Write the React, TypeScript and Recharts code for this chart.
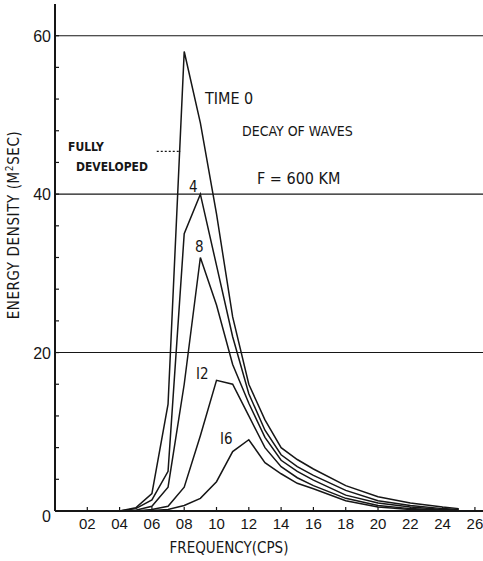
import { LineChart, Line, XAxis, YAxis, ReferenceLine, Label } from "recharts";

// frequency (cps) and energy density (m^2 sec) for each hour after the wind stops
const frequencies = [0.04, 0.05, 0.06, 0.07, 0.08, 0.09, 0.1, 0.11, 0.12, 0.13, 0.14, 0.15, 0.16, 0.18, 0.2, 0.22, 0.24, 0.25];
const time0 = [0, 0.4, 2.2, 13.5, 58, 49, 37.5, 24.5, 16, 11.5, 8, 6.5, 5.3, 3.2, 1.8, 1.0, 0.5, 0.3];
const time4 = [0, 0.3, 1.4, 5, 35, 40, 31, 22, 14.8, 10.2, 7.1, 5.6, 4.5, 2.6, 1.3, 0.7, 0.3, 0.2];
const time8 = [0, 0.1, 0.6, 3, 16, 32, 26, 18.5, 13.6, 9.3, 6.4, 5, 3.9, 2.0, 1.0, 0.5, 0.2, 0.1];
const time12 = [0, 0, 0.2, 0.6, 3, 9.5, 16.5, 16, 12, 8, 5.6, 4.2, 3.2, 1.6, 0.7, 0.3, 0.1, 0];
const time16 = [0, 0, 0.05, 0.2, 0.7, 1.6, 3.7, 7.5, 9, 6.1, 4.7, 3.5, 2.8, 1.3, 0.5, 0.2, 0.1, 0];

const seriesKeys = ["t0", "t4", "t8", "t12", "t16"];

const xTicks = [0.02, 0.04, 0.06, 0.08, 0.1, 0.12, 0.14, 0.16, 0.18, 0.2, 0.22, 0.24, 0.26];
const yTicks = [0, 4, 8, 12, 16, 20, 24, 28, 32, 36, 40, 44, 48, 52, 56, 60];
const gridLevels = [20, 40, 60];

// peak level of the fully developed sea, marked by a short dashed stub
const fullyDeveloped = 45.4;
const fullyDevelopedSpan = [0.063, 0.078];

const data = frequencies.map((f, i) => ({
  f,
  t0: time0[i],
  t4: time4[i],
  t8: time8[i],
  t12: time12[i],
  t16: time16[i],
}));

const INK = "#161616";
const LETTER = "'DejaVu Sans Condensed', 'DejaVu Sans', sans-serif";
const DIGIT = "'Liberation Sans', Arial, sans-serif";

function YTick({ x, y, payload }: any) {
  const v = payload.value;
  return (
    <g>
      <line x1={x} x2={x + 4} y1={y} y2={y} stroke={INK} strokeWidth={1.2} />
      {v % 20 === 0 && (
        <text x={x - 4} y={y} dy={v === 0 ? 11 : 6} textAnchor="end" fontFamily={DIGIT} fontSize={16} fill={INK}>
          {v}
        </text>
      )}
    </g>
  );
}

function XTick({ x, y, payload }: any) {
  const label = String(Math.round(payload.value * 100)).padStart(2, "0");
  return (
    <g>
      <line x1={x} x2={x} y1={y} y2={y - 4} stroke={INK} strokeWidth={1.2} />
      <text x={x} y={y + 18} textAnchor="middle" fontFamily={DIGIT} fontSize={15} fill={INK}>
        {label}
      </text>
    </g>
  );
}

function Note({ x, y, children, size = 15, weight = 400 }: any) {
  return (
    <text x={x} y={y} fontFamily={LETTER} fontSize={size} fontWeight={weight} fill={INK}>
      {children}
    </text>
  );
}

export default function App() {
  return (
    <div style={{ position: "absolute", left: 0, top: 0, width: 483, height: 561, background: "#fff" }}>
      <LineChart width={483} height={561} data={data} margin={{ top: 4, right: 0, bottom: 0, left: 0 }}>
        <XAxis
          dataKey="f"
          type="number"
          domain={[0, 0.265]}
          ticks={xTicks}
          interval={0}
          tick={<XTick />}
          tickLine={false}
          tickSize={0}
          tickMargin={0}
          height={50}
          axisLine={{ stroke: INK, strokeWidth: 1.8 }}
          allowDataOverflow
        >
          <Label
            content={() => (
              <text x={229} y={553} textAnchor="middle" fontFamily={LETTER} fontSize={15} fill={INK}>
                FREQUENCY(CPS)
              </text>
            )}
          />
        </XAxis>
        <YAxis
          type="number"
          domain={[0, 64]}
          ticks={yTicks}
          tick={<YTick />}
          tickLine={false}
          tickSize={0}
          tickMargin={0}
          width={55}
          axisLine={{ stroke: INK, strokeWidth: 2 }}
          interval={0}
        >
          <Label
            content={() => (
              <text
                x={19}
                y={225}
                transform="rotate(-90, 19, 225)"
                textAnchor="middle"
                fontFamily={LETTER}
                fontSize={15}
                letterSpacing={0.6}
                fill={INK}
              >
                ENERGY DENSITY (M
                <tspan dy={-6} fontSize={10}>2</tspan>
                <tspan dy={6}>SEC)</tspan>
              </text>
            )}
          />
        </YAxis>
        {gridLevels.map((v) => (
          <ReferenceLine key={v} y={v} stroke={INK} strokeWidth={1.1} />
        ))}
        <ReferenceLine
          segment={[
            { x: fullyDevelopedSpan[0], y: fullyDeveloped },
            { x: fullyDevelopedSpan[1], y: fullyDeveloped },
          ]}
          stroke={INK}
          strokeWidth={1.2}
          strokeDasharray="2 2"
        />
        {seriesKeys.map((k) => (
          <Line
            key={k}
            dataKey={k}
            type="linear"
            stroke={INK}
            strokeWidth={1.5}
            dot={false}
            activeDot={false}
            isAnimationActive={false}
          />
        ))}
        <Note x={205} y={104} size={16}>TIME 0</Note>
        <Note x={242} y={136} size={14}>DECAY OF WAVES</Note>
        <Note x={257} y={184} size={16}>F = 600 KM</Note>
        <Note x={68} y={151} size={12} weight={700}>FULLY</Note>
        <Note x={76} y={171} size={12} weight={700}>DEVELOPED</Note>
        <Note x={189} y={192}>4</Note>
        <Note x={195} y={252}>8</Note>
        <Note x={196} y={379}>I2</Note>
        <Note x={220} y={444}>I6</Note>
      </LineChart>
    </div>
  );
}
